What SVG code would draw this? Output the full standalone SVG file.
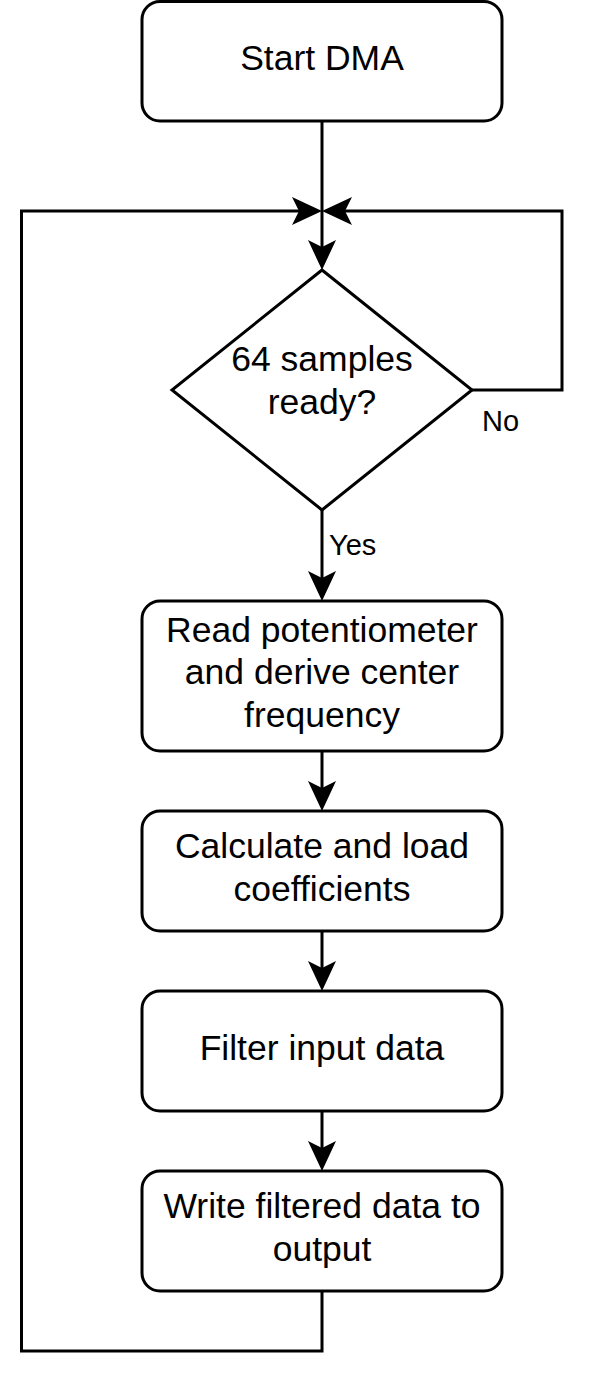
<svg xmlns="http://www.w3.org/2000/svg" width="591" height="1380" viewBox="0 0 591 1380">
<style>
.box{fill:#fff;stroke:#000;stroke-width:3}
.t{font-family:"Liberation Sans",Arial,Helvetica,sans-serif;font-size:35.5px;fill:#000;text-anchor:middle}
.lbl{font-family:"Liberation Sans",Arial,Helvetica,sans-serif;font-size:29px;fill:#000}
.edge{fill:none;stroke:#000;stroke-width:3;marker-end:url(#arr)}
</style>
<defs>
<marker id="arr" markerUnits="userSpaceOnUse" markerWidth="32" markerHeight="32" viewBox="0 0 32 32" refX="22" refY="16" orient="auto">
<path d="M0,2 L30,16 L0,30 L7,16 Z" fill="#000"/>
</marker>
</defs>
<rect width="591" height="1380" fill="#fff"/>
<g id="connectors">
<path class="edge" d="M322,121 V262"/>
<path class="edge" d="M322,1291 V1351 H21.5 V211 H314"/>
<path class="edge" d="M472,390 H562 V211 H330"/>
<path class="edge" d="M322,510 V593"/>
<path class="edge" d="M322,751 V803"/>
<path class="edge" d="M322,931 V983"/>
<path class="edge" d="M322,1111 V1163"/>
<text class="lbl" x="329" y="555">Yes</text>
<text class="lbl" x="482" y="431">No</text>
</g>
<g id="start">
<rect class="box" x="142" y="1.5" width="360" height="119.5" rx="18"/>
<text class="t" x="322" y="69.5">Start DMA</text>
</g>
<g id="decision">
<path class="box" d="M322,270 L472,390 L322,510 L172,390 Z"/>
<text class="t" x="322" y="371">64 samples</text>
<text class="t" x="322" y="413.5">ready?</text>
</g>
<g id="readpot">
<rect class="box" x="142" y="601" width="360" height="150" rx="18"/>
<text class="t" x="322" y="641.5">Read potentiometer</text>
<text class="t" x="322" y="684">and derive center</text>
<text class="t" x="322" y="726.5">frequency</text>
</g>
<g id="calc">
<rect class="box" x="142" y="811" width="360" height="120" rx="18"/>
<text class="t" x="322" y="858">Calculate and load</text>
<text class="t" x="322" y="900.5">coefficients</text>
</g>
<g id="filter">
<rect class="box" x="142" y="991" width="360" height="120" rx="18"/>
<text class="t" x="322" y="1059.5">Filter input data</text>
</g>
<g id="write">
<rect class="box" x="142" y="1171" width="360" height="120" rx="18"/>
<text class="t" x="322" y="1218">Write filtered data to</text>
<text class="t" x="322" y="1260.5">output</text>
</g>
</svg>
